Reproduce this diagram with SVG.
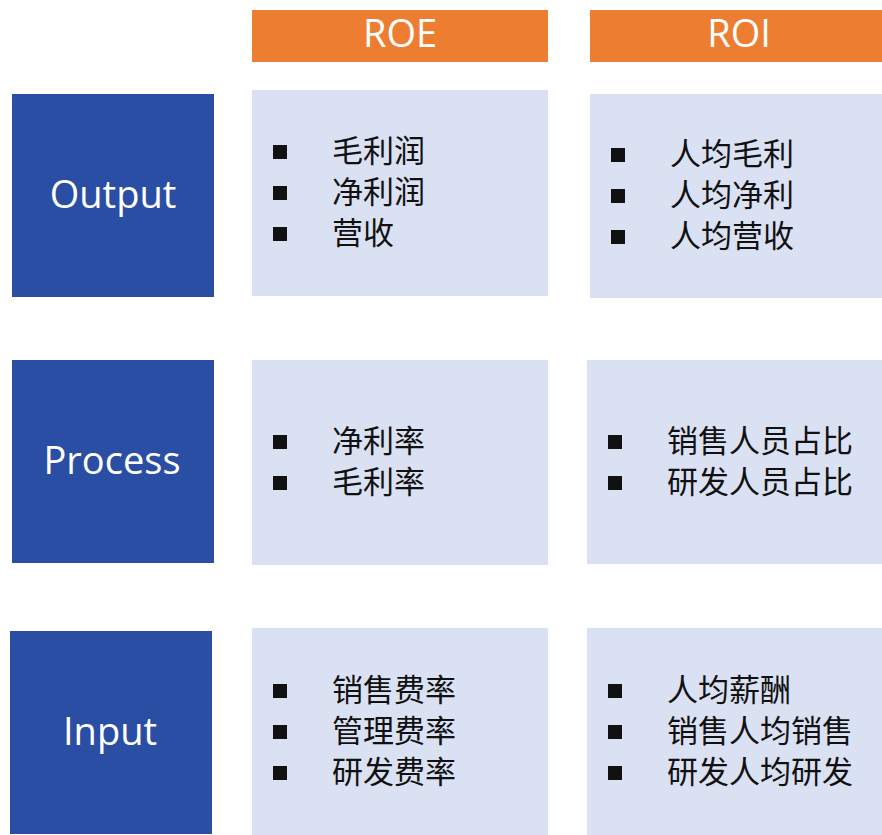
<svg xmlns="http://www.w3.org/2000/svg" width="882" height="835" viewBox="0 0 882 835">
  <style>
    .hdr { fill: #ED7D31; }
    .lvl { fill: #2A4EA3; }
    .cell { fill: #DAE1F3; }
    .hdr-t, .lvl-t { font-family: "Open Sans", "Noto Sans", "Liberation Sans", sans-serif; font-size: 38px; fill: #FFFFFF; text-anchor: middle; }
    .item { font-family: "Noto Sans CJK SC", "Noto Sans", sans-serif; font-size: 31px; fill: #111111; }
    .dot { fill: #111111; }
  </style>
  <defs>
    <rect id="sq" width="14" height="14" class="dot"/>
  </defs>
  <rect width="882" height="835" fill="#FFFFFF"/>

  <!-- column headers -->
  <g id="hdr-roe">
    <rect class="hdr" x="252" y="10" width="296" height="52"/>
    <text class="hdr-t" x="400" y="47">ROE</text>
  </g>
  <g id="hdr-roi">
    <rect class="hdr" x="590" y="10" width="292" height="52"/>
    <text class="hdr-t" x="739" y="47">ROI</text>
  </g>

  <!-- row labels -->
  <g id="lvl-output">
    <rect class="lvl" x="12" y="94" width="202" height="203"/>
    <text class="lvl-t" x="113" y="208">Output</text>
  </g>
  <g id="lvl-process">
    <rect class="lvl" x="12" y="360" width="202" height="203"/>
    <text class="lvl-t" x="112" y="474">Process</text>
  </g>
  <g id="lvl-input">
    <rect class="lvl" x="10" y="631" width="202" height="203"/>
    <text class="lvl-t" x="110" y="745">Input</text>
  </g>

  <!-- Output row -->
  <g id="roe-output">
    <rect class="cell" x="252" y="90" width="296" height="206"/>
    <use href="#sq" x="273" y="145"/>
    <use href="#sq" x="273" y="186"/>
    <use href="#sq" x="273" y="227"/>
    <text class="item" x="332" y="162">毛利润</text>
    <text class="item" x="332" y="203">净利润</text>
    <text class="item" x="332" y="244">营收</text>
  </g>
  <g id="roi-output">
    <rect class="cell" x="590" y="94" width="292" height="204"/>
    <use href="#sq" x="611" y="148"/>
    <use href="#sq" x="611" y="189"/>
    <use href="#sq" x="611" y="230"/>
    <text class="item" x="670" y="165">人均毛利</text>
    <text class="item" x="670" y="206">人均净利</text>
    <text class="item" x="670" y="247">人均营收</text>
  </g>

  <!-- Process row -->
  <g id="roe-process">
    <rect class="cell" x="252" y="360" width="296" height="205"/>
    <use href="#sq" x="273" y="435"/>
    <use href="#sq" x="273" y="476"/>
    <text class="item" x="332" y="452">净利率</text>
    <text class="item" x="332" y="493">毛利率</text>
  </g>
  <g id="roi-process">
    <rect class="cell" x="587" y="360" width="295" height="204"/>
    <use href="#sq" x="608" y="435"/>
    <use href="#sq" x="608" y="476"/>
    <text class="item" x="667" y="452">销售人员占比</text>
    <text class="item" x="667" y="493">研发人员占比</text>
  </g>

  <!-- Input row -->
  <g id="roe-input">
    <rect class="cell" x="252" y="628" width="296" height="207"/>
    <use href="#sq" x="273" y="684"/>
    <use href="#sq" x="273" y="725"/>
    <use href="#sq" x="273" y="766"/>
    <text class="item" x="332" y="701">销售费率</text>
    <text class="item" x="332" y="742">管理费率</text>
    <text class="item" x="332" y="783">研发费率</text>
  </g>
  <g id="roi-input">
    <rect class="cell" x="587" y="628" width="295" height="207"/>
    <use href="#sq" x="608" y="684"/>
    <use href="#sq" x="608" y="725"/>
    <use href="#sq" x="608" y="766"/>
    <text class="item" x="667" y="701">人均薪酬</text>
    <text class="item" x="667" y="742">销售人均销售</text>
    <text class="item" x="667" y="783">研发人均研发</text>
  </g>
</svg>
